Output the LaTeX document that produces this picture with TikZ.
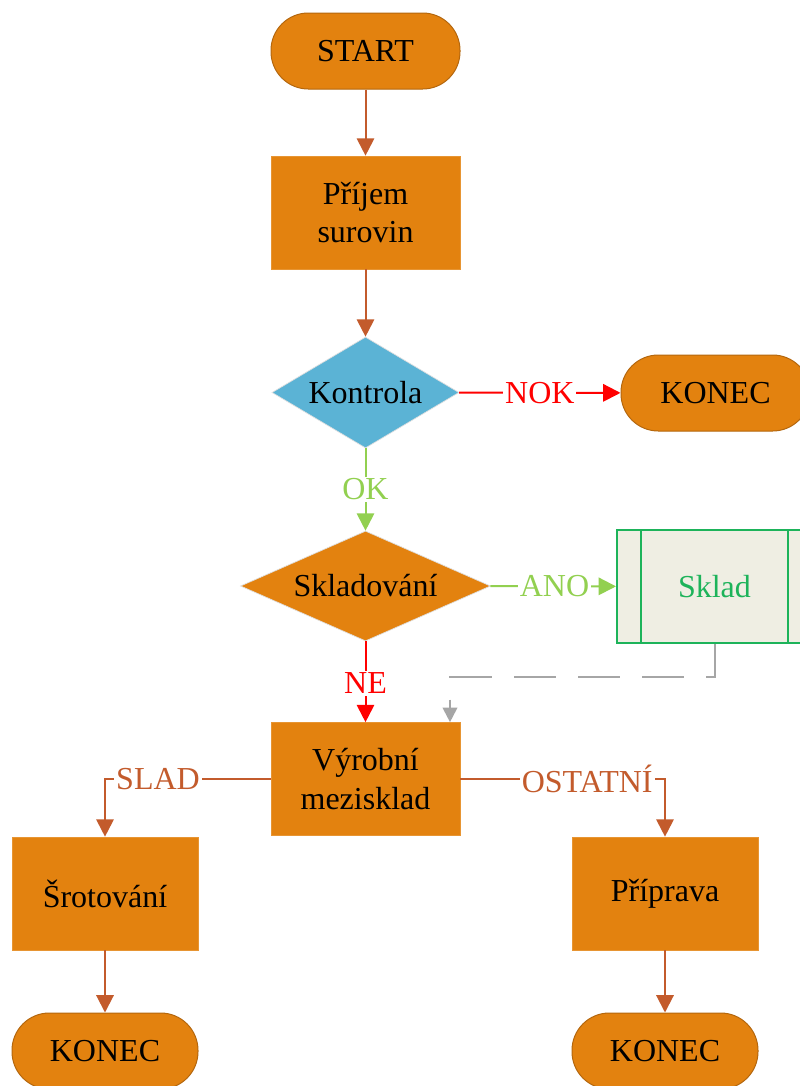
\documentclass[tikz,border=0pt]{standalone}
\usepackage{fontspec}
\setmainfont{Liberation Serif}
\usetikzlibrary{shapes.geometric,arrows.meta,calc}
\definecolor{fillor}{HTML}{E3820F}
\definecolor{bordor}{HTML}{B4670E}
\definecolor{arrbr}{HTML}{C35B2C}
\definecolor{kblue}{HTML}{5BB3D5}
\definecolor{okgreen}{HTML}{92D050}
\definecolor{skgreen}{HTML}{1DB35A}
\definecolor{skfill}{HTML}{EFEEE3}
\definecolor{dashgray}{HTML}{A6A6A6}
\begin{document}
\begin{tikzpicture}[x=0.75pt,y=-0.75pt,
  font=\fontsize{24pt}{29pt}\selectfont,
  term/.style={rectangle, rounded corners=28pt, fill=fillor, draw=bordor, line width=0.75pt, minimum width=141.75pt, minimum height=57pt, inner sep=0},
  proc/.style={rectangle, fill=fillor, draw=fillor!85!white, line width=0.5pt, minimum width=141.75pt, minimum height=84.75pt, align=center, inner sep=0},
  dec/.style={diamond, inner sep=0, draw=gray!25, line width=0.5pt},
  flow/.style={line width=1.5pt, -{Triangle[width=13pt,length=13pt]}},
  lab/.style={fill=white, inner sep=1.5pt},
]
\clip (0,0) rectangle (800,1086);
\fill[white] (0,0) rectangle (800,1086);

\node[term] (start) at (365.5,51) {START};
\node[proc] (prijem) at (365.5,212.5) {Příjem\\surovin};
\node[dec, fill=kblue, aspect=1.68, minimum width=140.25pt, minimum height=83.25pt] (kontrola) at (365.5,392.5) {Kontrola};
\node[term] (konec1) at (715.5,393) {KONEC};
\node[dec, fill=fillor, aspect=2.27, minimum width=187.5pt, minimum height=82.5pt] (sklado) at (365.5,586) {Skladování};
\node[rectangle, fill=skfill, draw=skgreen, line width=1.5pt, minimum width=146.25pt, minimum height=84.75pt, text=skgreen] (sklad) at (714.5,586.5) {Sklad};
\draw[skgreen, line width=1.5pt] ([xshift=18.75pt]sklad.north west) -- ([xshift=18.75pt]sklad.south west);
\draw[skgreen, line width=1.5pt] ([xshift=-18.75pt]sklad.north east) -- ([xshift=-18.75pt]sklad.south east);
\node[proc] (vyr) at (365.5,779) {Výrobní\\mezisklad};
\node[proc, minimum width=139.5pt] (srot) at (105,893.5) {Šrotování};
\node[proc, minimum width=139.5pt] (prip) at (665,893.5) {Příprava};
\node[term, minimum width=139.5pt] (konec2) at (105,1051) {KONEC};
\node[term, minimum width=139.5pt] (konec3) at (665,1051) {KONEC};

\draw[flow, arrbr] (start) -- (prijem);
\draw[flow, arrbr] (prijem) -- (kontrola);
\draw[flow, red] (kontrola) -- node[lab, text=red]{NOK} (konec1);
\draw[flow, okgreen] (kontrola) -- node[lab, text=okgreen]{OK} (sklado);
\draw[flow, okgreen] (sklado) -- node[lab, text=okgreen, pos=0.51]{ANO} (sklad);
\draw[flow, red] (sklado) -- node[lab, text=red, pos=0.52]{NE} (vyr);
\draw[flow, arrbr] (vyr.west) -| node[lab, text=arrbr, pos=0.34]{SLAD} (srot.north);
\draw[flow, arrbr] (vyr.east) -| node[lab, text=arrbr, pos=0.31]{OSTATNÍ} (prip.north);
\draw[flow, arrbr] (srot) -- (konec2);
\draw[flow, arrbr] (prip) -- (konec3);

\coordinate (dc) at (450,677);
\draw[dashgray, line width=1.5pt, dash pattern=on 31.5pt off 16.5pt, -{Triangle[width=11pt,length=11pt]}] (sklad.south) |- (dc) -- (dc |- vyr.north);
\end{tikzpicture}
\end{document}
